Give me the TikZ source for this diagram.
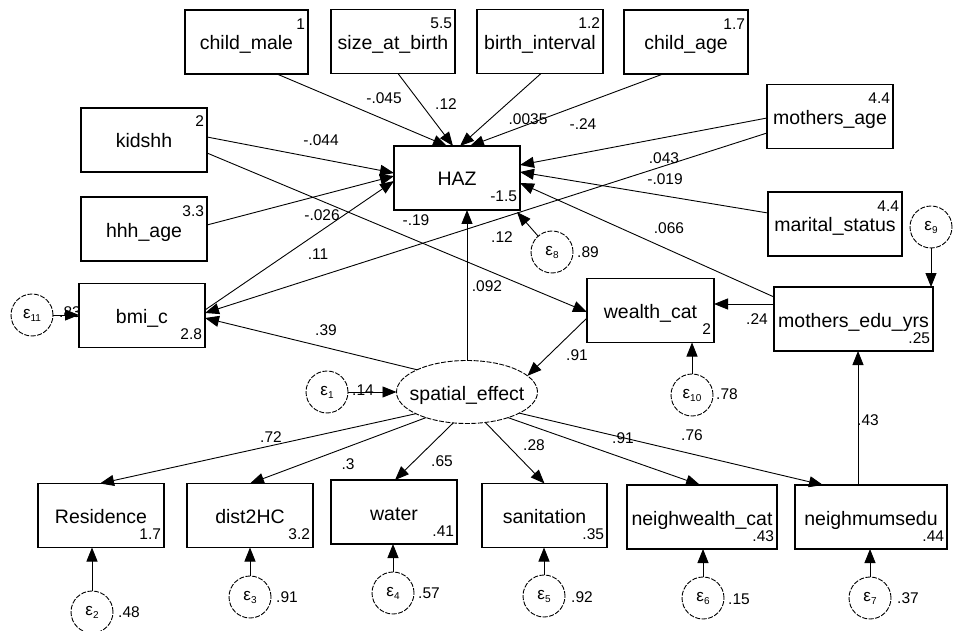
\documentclass[tikz,border=0pt]{standalone}
\usepackage{fontspec}
\setmainfont{Liberation Sans}
\usetikzlibrary{arrows.meta,shapes.geometric,calc}
\begin{document}
\begin{tikzpicture}[x=1pt,y=-1pt,
  box/.style={draw, line width=1.1pt, rectangle, minimum height=64pt, inner sep=0pt, outer sep=0pt,
    text height=20pt, text depth=4pt, font=\fontsize{19.5}{22}\selectfont},
  num/.style={inner sep=0pt, outer sep=0pt, anchor=base east, font=\fontsize{15.5}{17}\selectfont},
  lab/.style={inner sep=0pt, font=\fontsize{15.5}{17}\selectfont},
  err/.style={draw, circle, line width=0.9pt, dash pattern=on 5pt off 1.5pt, minimum size=42pt,
    inner sep=0pt, outer sep=0pt, font=\fontsize{17}{18}\selectfont},
  arr/.style={line width=0.9pt, -{Triangle[length=14pt,width=11pt]}},
]
\fill[white] (0,0) rectangle (953,631);
\useasboundingbox (0,0) rectangle (953,631);
\newcommand{\eps}[1]{ε\raisebox{-3pt}{\fontsize{10}{11}\selectfont #1}}

% observed boxes
\node[box, minimum width=123pt] (child_male) at (246.5,42) {child\_male};
\node[box, minimum width=124pt] (size_at_birth) at (393,41.5) {size\_at\_birth};
\node[box, minimum width=126pt] (birth_interval) at (540,41.5) {birth\_interval};
\node[box, minimum width=124pt] (child_age) at (686,42) {child\_age};
\node[box, minimum width=126pt] (mothers_age) at (830,116.5) {mothers\_age};
\node[box, minimum width=126pt] (kidshh) at (144,140) {kidshh};
\node[box, minimum width=126pt] (hhh_age) at (144,229) {hhh\_age};
\node[box, minimum width=126pt] (bmi_c) at (142,315.5) {bmi\_c};
\node[box, minimum width=126pt] (HAZ) at (457,178) {HAZ};
\node[box, minimum width=134pt] (marital_status) at (835,224) {marital\_status};
\node[box, minimum width=127pt] (wealth_cat) at (650.5,310.5) {wealth\_cat};
\node[box, minimum width=159pt] (mothers_edu) at (853.5,319) {mothers\_edu\_yrs};
\node[box, minimum width=126pt] (Residence) at (101,515.5) {Residence};
\node[box, minimum width=126pt] (dist2HC) at (250,515.5) {dist2HC};
\node[box, minimum width=126pt] (water) at (394,512) {water};
\node[box, minimum width=125pt] (sanitation) at (544.5,515.5) {sanitation};
\node[box, minimum width=150pt] (neighwealth) at (702,517) {neighwealth\_cat};
\node[box, minimum width=152pt] (neighmumsedu) at (871,517) {neighmumsedu};

% latent
\node[draw, ellipse, line width=0.9pt, dash pattern=on 5pt off 1.5pt, minimum width=141pt, minimum height=63pt,
  inner sep=0pt, outer sep=0pt] (spatial) at (467,392) {};
\node[inner sep=0pt, text height=20pt, text depth=4pt, font=\fontsize{19.5}{22}\selectfont] (spatial_text) at (467,392) {spatial\_effect};

% intercepts (top right)
\node[num] (i1) at ([xshift=-3pt,yshift=-19.5pt]child_male.north east) {1};
\node[num] (i2) at ([xshift=-3pt,yshift=-19.5pt]size_at_birth.north east) {5.5};
\node[num] (i3) at ([xshift=-3pt,yshift=-19.5pt]birth_interval.north east) {1.2};
\node[num] (i4) at ([xshift=-3pt,yshift=-19.5pt]child_age.north east) {1.7};
\node[num] (i5) at ([xshift=-3pt,yshift=-19.5pt]mothers_age.north east) {4.4};
\node[num] (i6) at ([xshift=-3pt,yshift=-19pt]kidshh.north east) {2};
\node[num] (i7) at ([xshift=-3pt,yshift=-19.5pt]hhh_age.north east) {3.3};
\node[num] (i8) at ([xshift=-3pt,yshift=-19.5pt]marital_status.north east) {4.4};
% intercepts (bottom right)
\node[num] (i9) at ([xshift=-3pt,yshift=8pt]bmi_c.south east) {2.8};
\node[num] (i10) at ([xshift=-3pt,yshift=8pt]HAZ.south east) {-1.5};
\node[num] (i11) at ([xshift=-3pt,yshift=8pt]wealth_cat.south east) {2};
\node[num] (i12) at ([xshift=-3pt,yshift=8pt]mothers_edu.south east) {.25};
\node[num] (i13) at ([xshift=-3pt,yshift=8pt]Residence.south east) {1.7};
\node[num] (i14) at ([xshift=-3pt,yshift=8pt]dist2HC.south east) {3.2};
\node[num] (i15) at ([xshift=-3pt,yshift=8pt]water.south east) {.41};
\node[num] (i16) at ([xshift=-3pt,yshift=8pt]sanitation.south east) {.35};
\node[num] (i17) at ([xshift=-3pt,yshift=8pt]neighwealth.south east) {.43};
\node[num] (i18) at ([xshift=-3pt,yshift=8pt]neighmumsedu.south east) {.44};

% error terms
\node[err] (e1) at (327,392) {\eps{1}};
\node[err] (e2) at (92,612) {\eps{2}};
\node[err] (e3) at (250,597) {\eps{3}};
\node[err] (e4) at (393,593) {\eps{4}};
\node[err] (e5) at (544,596) {\eps{5}};
\node[err] (e6) at (703,598) {\eps{6}};
\node[err] (e7) at (870,598) {\eps{7}};
\node[err] (e8) at (552,252) {\eps{8}};
\node[err] (e9) at (931,227) {\eps{9}};
\node[err] (e10) at (692,395) {\eps{10}};
\node[err] (e11) at (32,315) {\eps{11}};

% paths into HAZ
\draw[arr] ([xshift=30.5pt]child_male.south) -- ([xshift=-10pt]HAZ.north);
\draw[arr] ([xshift=5pt]size_at_birth.south) -- ([xshift=-4pt]HAZ.north);
\draw[arr] ([xshift=1pt]birth_interval.south) -- ([xshift=3pt]HAZ.north);
\draw[arr] ([xshift=-23pt]child_age.south) -- ([xshift=13pt]HAZ.north);
\draw[arr] ([yshift=3pt]kidshh.east) -- ([yshift=5pt]HAZ.west);
\draw[arr] ([yshift=4pt]hhh_age.east) -- ([yshift=2pt]HAZ.west);
\draw[arr] ([yshift=5.5pt]bmi_c.east) -- ([yshift=-3pt]HAZ.west);
\draw[arr] ([yshift=-1.5pt]mothers_age.west) -- ([yshift=13pt]HAZ.east);
\draw[arr] ([yshift=11pt]marital_status.west) -- ([yshift=6pt]HAZ.east);
\draw[arr] ([yshift=22pt]mothers_edu.west) -- ([yshift=-5pt]HAZ.east);
\draw[arr] (spatial.north) -- (spatial.north |- HAZ.south);
% other structural paths
\draw[arr] ([yshift=-13pt]kidshh.east) -- ([yshift=-1.5pt]wealth_cat.west);
\draw[arr] ([yshift=-16.5pt]mothers_age.west) -- ([yshift=2.5pt]bmi_c.east);
\draw[arr] ([yshift=15pt]mothers_edu.west) -- ([yshift=6.5pt]wealth_cat.east);
\draw[arr] ([yshift=-7.5pt]wealth_cat.west) -- (spatial.15);
\draw[arr] (spatial.156) -- ([yshift=-2.5pt]bmi_c.east);
% measurement paths
\draw[arr] (spatial.203) -- ([xshift=-1pt]Residence.north);
\draw[arr] (spatial.212) -- (dist2HC.north);
\draw[arr] (spatial.246) -- ([xshift=1pt]water.north);
\draw[arr] (spatial.-59) -- (sanitation.north);
\draw[arr] (spatial.-32) -- ([xshift=-2pt]neighwealth.north);
\draw[arr] (spatial.-22) -- ([xshift=-48pt]neighmumsedu.north);
\coordinate (nm) at ([xshift=-13pt]neighmumsedu.north);
\draw[arr] (nm) -- (nm |- mothers_edu.south);
% error paths
\draw[arr] (e1) -- (spatial);
\draw[arr] (e11) -- (e11 -| bmi_c.west);
\draw[arr] (e2) -- (e2 |- Residence.south);
\draw[arr] (e3) -- (e3 |- dist2HC.south);
\draw[arr] (e4) -- (e4 |- water.south);
\draw[arr] (e5) -- (e5 |- sanitation.south);
\draw[arr] (e6) -- (e6 |- neighwealth.south);
\draw[arr] (e7) -- (e7 |- neighmumsedu.south);
\draw[arr] (e9) -- (e9 |- mothers_edu.north);
\draw[arr] (e10) -- (e10 |- wealth_cat.south);
\draw[arr] (e8) -- ([xshift=-3pt,yshift=-2pt]HAZ.south east);

% coefficient labels
\node[lab] (c1) at (384,98) {-.045};
\node[lab] (c2) at (446,104) {.12};
\node[lab] (c3) at (528,119) {.0035};
\node[lab] (c4) at (583,124) {-.24};
\node[lab] (c5) at (321,140) {-.044};
\node[lab] (c6) at (322,215) {-.026};
\node[lab] (c7) at (318,254) {.11};
\node[lab] (c8) at (326,330) {.39};
\node[lab] (c9) at (416,220) {-.19};
\node[lab] (c10) at (502,237) {.12};
\node[lab] (c11) at (487,286) {.092};
\node[lab] (c12) at (664,158) {.043};
\node[lab] (c13) at (665,179) {-.019};
\node[lab] (c14) at (669,228) {.066};
\node[lab] (c15) at (757,319) {.24};
\node[lab] (c16) at (577,355) {.91};
\node[lab] (c17) at (271,437) {.72};
\node[lab] (c18) at (348,464) {.3};
\node[lab] (c19) at (442,461) {.65};
\node[lab] (c20) at (534,445) {.28};
\node[lab] (c21) at (623,438) {.91};
\node[lab] (c22) at (692,435) {.76};
\node[lab] (c23) at (868,420) {.43};
% variances
\node[lab] (v1) at (363,390) {.14};
\node[lab] (v2) at (129,612) {.48};
\node[lab] (v3) at (287,597) {.91};
\node[lab] (v4) at (429,593) {.57};
\node[lab] (v5) at (582,597) {.92};
\node[lab] (v6) at (739,599) {.15};
\node[lab] (v7) at (908,598) {.37};
\node[lab] (v8) at (588,252) {.89};
\node[lab] (v10) at (727,394) {.78};
\node[lab] (v11) at (70,312) {.83};
\end{tikzpicture}
\end{document}
